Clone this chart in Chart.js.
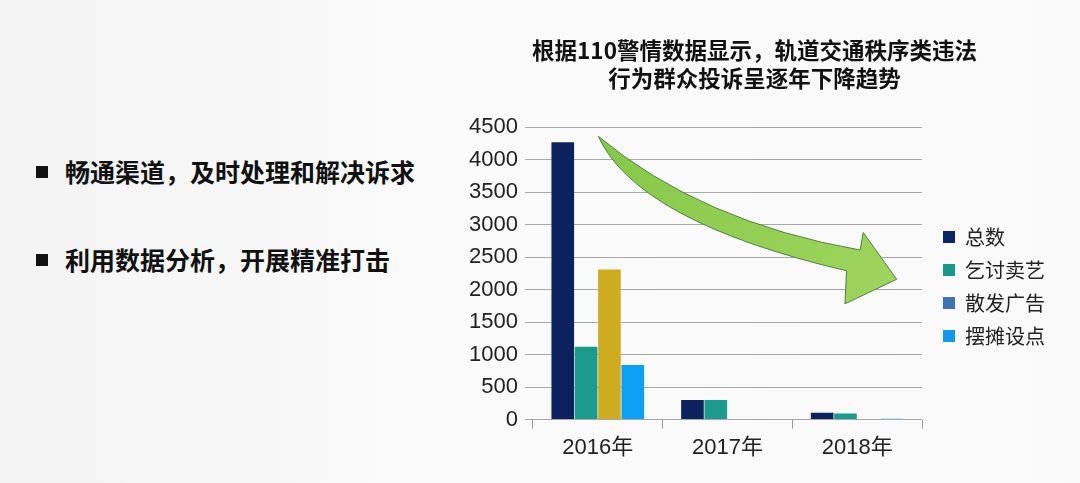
<!DOCTYPE html>
<html>
<head>
<meta charset="utf-8">
<script src="https://cdn.jsdelivr.net/npm/chart.js@4/dist/chart.umd.min.js"></script>
<style>
    html, body { margin: 0; padding: 0; }
    body {
        width: 1080px; height: 483px; overflow: hidden; position: relative;
        background: linear-gradient(90deg, #f3f3f3 0%, #fafafa 40%, #f9f9f9 100%);
        font-family: "Noto Sans CJK SC", sans-serif;
    }
    .points { position: absolute; left: 36px; top: 0; }
    .points div {
        position: absolute; white-space: nowrap;
        font-size: 25px; font-weight: bold; color: #111;
    }
    .points span.sq {
        display: inline-block; width: 12px; height: 12px; background: #111;
        margin-right: 17px; vertical-align: 4px;
    }
    #wrap { position: absolute; left: 460px; top: 0; width: 600px; height: 483px; }
</style>
</head>
<body>
<div class="points">
    <div style="top:153px"><span class="sq"></span>畅通渠道，及时处理和解决诉求</div>
    <div style="top:241px"><span class="sq"></span>利用数据分析，开展精准打击</div>
</div>
<div id="wrap"><canvas id="chart"></canvas></div>
<script>
// Data
const years = ['2016年', '2017年', '2018年'];
const seriesNames = ['总数', '乞讨卖艺', '散发广告', '摆摊设点'];
const totalCount = [4270, 300, 105];
const begging = [1120, 300, 95];
const flyers = [2310, 0, 0];
const stalls = [840, 0, 15];
const chartTitle = ['根据110警情数据显示，轨道交通秩序类违法', '行为群众投诉呈逐年下降趋势'];

const barColors = ['#0c215e', '#1c9a8c', '#cfab1f', '#0ea0f5'];
const legendColors = ['#0b2465', '#1a9688', '#3e72b5', '#1495ee'];
const fontFamily = '"Liberation Sans", Arial, "Noto Sans CJK SC", sans-serif';

// decorative green arrow, points as fractions of the chart area
const arrowPlugin = {
    id: 'trendArrow',
    afterDatasetsDraw(chart) {
        const { ctx, chartArea: a } = chart;
        const w = a.right - a.left, h = a.bottom - a.top;
        const p = (fx, fy) => [a.left + fx * w, a.top + fy * h];
        ctx.save();
        ctx.beginPath();
        ctx.moveTo(...p(0.168, 0.031));
        ctx.quadraticCurveTo(...p(0.433, 0.325), ...p(0.841, 0.420));
        ctx.lineTo(...p(0.849, 0.360));
        ctx.lineTo(...p(0.935, 0.520));
        ctx.lineTo(...p(0.802, 0.604));
        ctx.lineTo(...p(0.806, 0.491));
        ctx.quadraticCurveTo(...p(0.268, 0.323), ...p(0.168, 0.031));
        ctx.closePath();
        const [x0, y0] = p(0.2, 0.05);
        const [x1, y1] = p(0.9, 0.6);
        const g = ctx.createLinearGradient(x0, y0, x1, y1);
        g.addColorStop(0, '#86c84a');
        g.addColorStop(1, '#9fd45e');
        ctx.fillStyle = g;
        ctx.fill();
        ctx.strokeStyle = '#4f7f3c';
        ctx.lineWidth = 1;
        ctx.stroke();
        ctx.restore();
    }
};

// nudge the legend block a little right and down
const legendShift = {
    id: 'legendShift',
    afterLayout(chart) {
        const lg = chart.legend;
        if (!lg) return;
        lg.left += 8; lg.right += 8;
        lg.top += 35; lg.bottom += 35;
    }
};

const seriesValues = [totalCount, begging, flyers, stalls];

new Chart(document.getElementById('chart'), {
    type: 'bar',
    data: {
        labels: years,
        datasets: seriesNames.map((name, i) => ({
            label: name,
            data: seriesValues[i],
            backgroundColor: barColors[i],
            borderWidth: 0,
            barPercentage: 0.97,
            categoryPercentage: 0.72
        }))
    },
    options: {
        responsive: true,
        maintainAspectRatio: false,
        animation: false,
        layout: { padding: { top: 36, left: 2, right: 13, bottom: 16 } },
        plugins: {
            title: {
                display: true,
                text: chartTitle,
                color: '#111',
                font: { family: '"Noto Sans CJK SC", sans-serif', size: 22.5, weight: 'bold', lineHeight: 1.25 },
                padding: { top: 0, bottom: 35 }
            },
            legend: {
                position: 'right',
                align: 'center',
                labels: {
                    boxWidth: 12,
                    boxHeight: 12,
                    padding: 13,
                    color: '#222',
                    font: { family: '"Noto Sans CJK SC", sans-serif', size: 20 },
                    generateLabels(chart) {
                        const items = Chart.defaults.plugins.legend.labels.generateLabels(chart);
                        return items.map((it, i) => ({ ...it, fillStyle: legendColors[i], strokeStyle: legendColors[i], lineWidth: 0 }));
                    }
                }
            },
            tooltip: { enabled: false }
        },
        scales: {
            x: {
                grid: { offset: true, drawOnChartArea: false, drawTicks: true, tickLength: 9, color: '#9a9a9a' },
                border: { display: false },
                ticks: { color: '#222', padding: 6, font: { family: fontFamily, size: 22 } }
            },
            y: {
                min: 0,
                max: 4500,
                ticks: { stepSize: 500, color: '#222', padding: 7, font: { family: fontFamily, size: 22 }, callback: v => String(v) },
                grid: { color: '#a8a8a8', tickLength: 8 },
                border: { display: false }
            }
        }
    },
    plugins: [arrowPlugin, legendShift]
});
</script>
</body>
</html>
